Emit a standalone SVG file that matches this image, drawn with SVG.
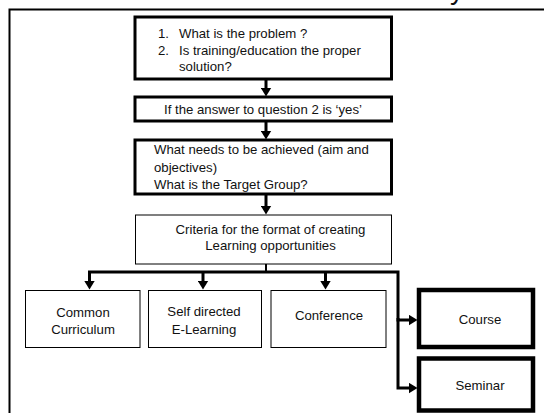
<svg xmlns="http://www.w3.org/2000/svg" width="544" height="413" viewBox="0 0 544 413">
  <style>
    text { font-family: "Liberation Sans", Arial, sans-serif; font-size: 13.2px; fill: #111; }
    .c { text-anchor: middle; }
    .box { fill: #fff; stroke: #000; }
    .thick { stroke-width: 3; }
    .thin { stroke-width: 1; }
    .heavy { stroke-width: 4.5; }
    .conn { fill: none; stroke: #000; stroke-width: 3; }
  </style>
  <defs>
    <marker id="arrow" markerUnits="userSpaceOnUse" markerWidth="10" markerHeight="11" refX="0.5" refY="5.5" orient="auto">
      <path d="M0,0 L9,5.5 L0,11 z" fill="#000"/>
    </marker>
  </defs>

  <rect width="544" height="413" fill="#fff"/>

  <!-- heading, mostly above the page edge -->
  <text x="450" y="-1" style="font-size:28px">y</text>

  <!-- page frame -->
  <rect x="9.5" y="9.5" width="560" height="420" fill="none" stroke="#000" stroke-width="2"/>

  <g id="connectors">
    <path class="conn" d="M266 79 V88" marker-end="url(#arrow)"/>
    <path class="conn" d="M266 121 V131" marker-end="url(#arrow)"/>
    <path class="conn" d="M266 194 V206" marker-end="url(#arrow)"/>
    <path class="conn" style="stroke-width:2" d="M266 264 V272"/>
    <path class="conn" d="M266 272 H89.5 V281" marker-end="url(#arrow)"/>
    <path class="conn" d="M203 272 V281" marker-end="url(#arrow)"/>
    <path class="conn" d="M325.5 272 V281" marker-end="url(#arrow)"/>
    <path class="conn" d="M266 272 H398 V320 H409" marker-end="url(#arrow)"/>
    <path class="conn" d="M398 318 V388 H409" marker-end="url(#arrow)"/>
  </g>

  <g id="problem">
    <rect class="box thick" x="135" y="17" width="256.5" height="62"/>
    <text x="158" y="37.5">1.</text>
    <text x="179" y="37.5">What is the problem ?</text>
    <text x="158" y="54.5">2.</text>
    <text x="179" y="54.5">Is training/education the proper</text>
    <text x="179" y="71">solution?</text>
  </g>

  <g id="answer">
    <rect class="box thick" x="135" y="97" width="256.5" height="24"/>
    <text class="c" x="263" y="113.5">If the answer to question 2 is ‘yes’</text>
  </g>

  <g id="aims">
    <rect class="box thick" x="135" y="140" width="256.5" height="54"/>
    <text x="154" y="154">What needs to be achieved (aim and</text>
    <text x="154" y="172">objectives)</text>
    <text x="154" y="189">What is the Target Group?</text>
  </g>

  <g id="criteria">
    <rect class="box thin" x="135.5" y="215" width="256" height="49"/>
    <text class="c" x="270.5" y="234">Criteria for the format of creating</text>
    <text class="c" x="270.5" y="250">Learning opportunities</text>
  </g>

  <g id="curriculum">
    <rect class="box thin" x="25.5" y="290.5" width="114.5" height="57"/>
    <text class="c" x="83" y="316.5">Common</text>
    <text class="c" x="83" y="334">Curriculum</text>
  </g>

  <g id="elearning">
    <rect class="box thin" x="148.5" y="290.5" width="113" height="57"/>
    <text class="c" x="204" y="316">Self directed</text>
    <text class="c" x="204" y="333.5">E-Learning</text>
  </g>

  <g id="conference">
    <rect class="box thin" x="271" y="290.5" width="115" height="57"/>
    <text class="c" x="329" y="320">Conference</text>
  </g>

  <g id="course">
    <rect class="box heavy" x="419" y="290" width="114" height="57"/>
    <text class="c" x="480" y="323.5">Course</text>
  </g>

  <g id="seminar">
    <rect class="box heavy" x="419" y="358.5" width="114" height="52"/>
    <text class="c" x="480" y="389.5">Seminar</text>
  </g>
</svg>
